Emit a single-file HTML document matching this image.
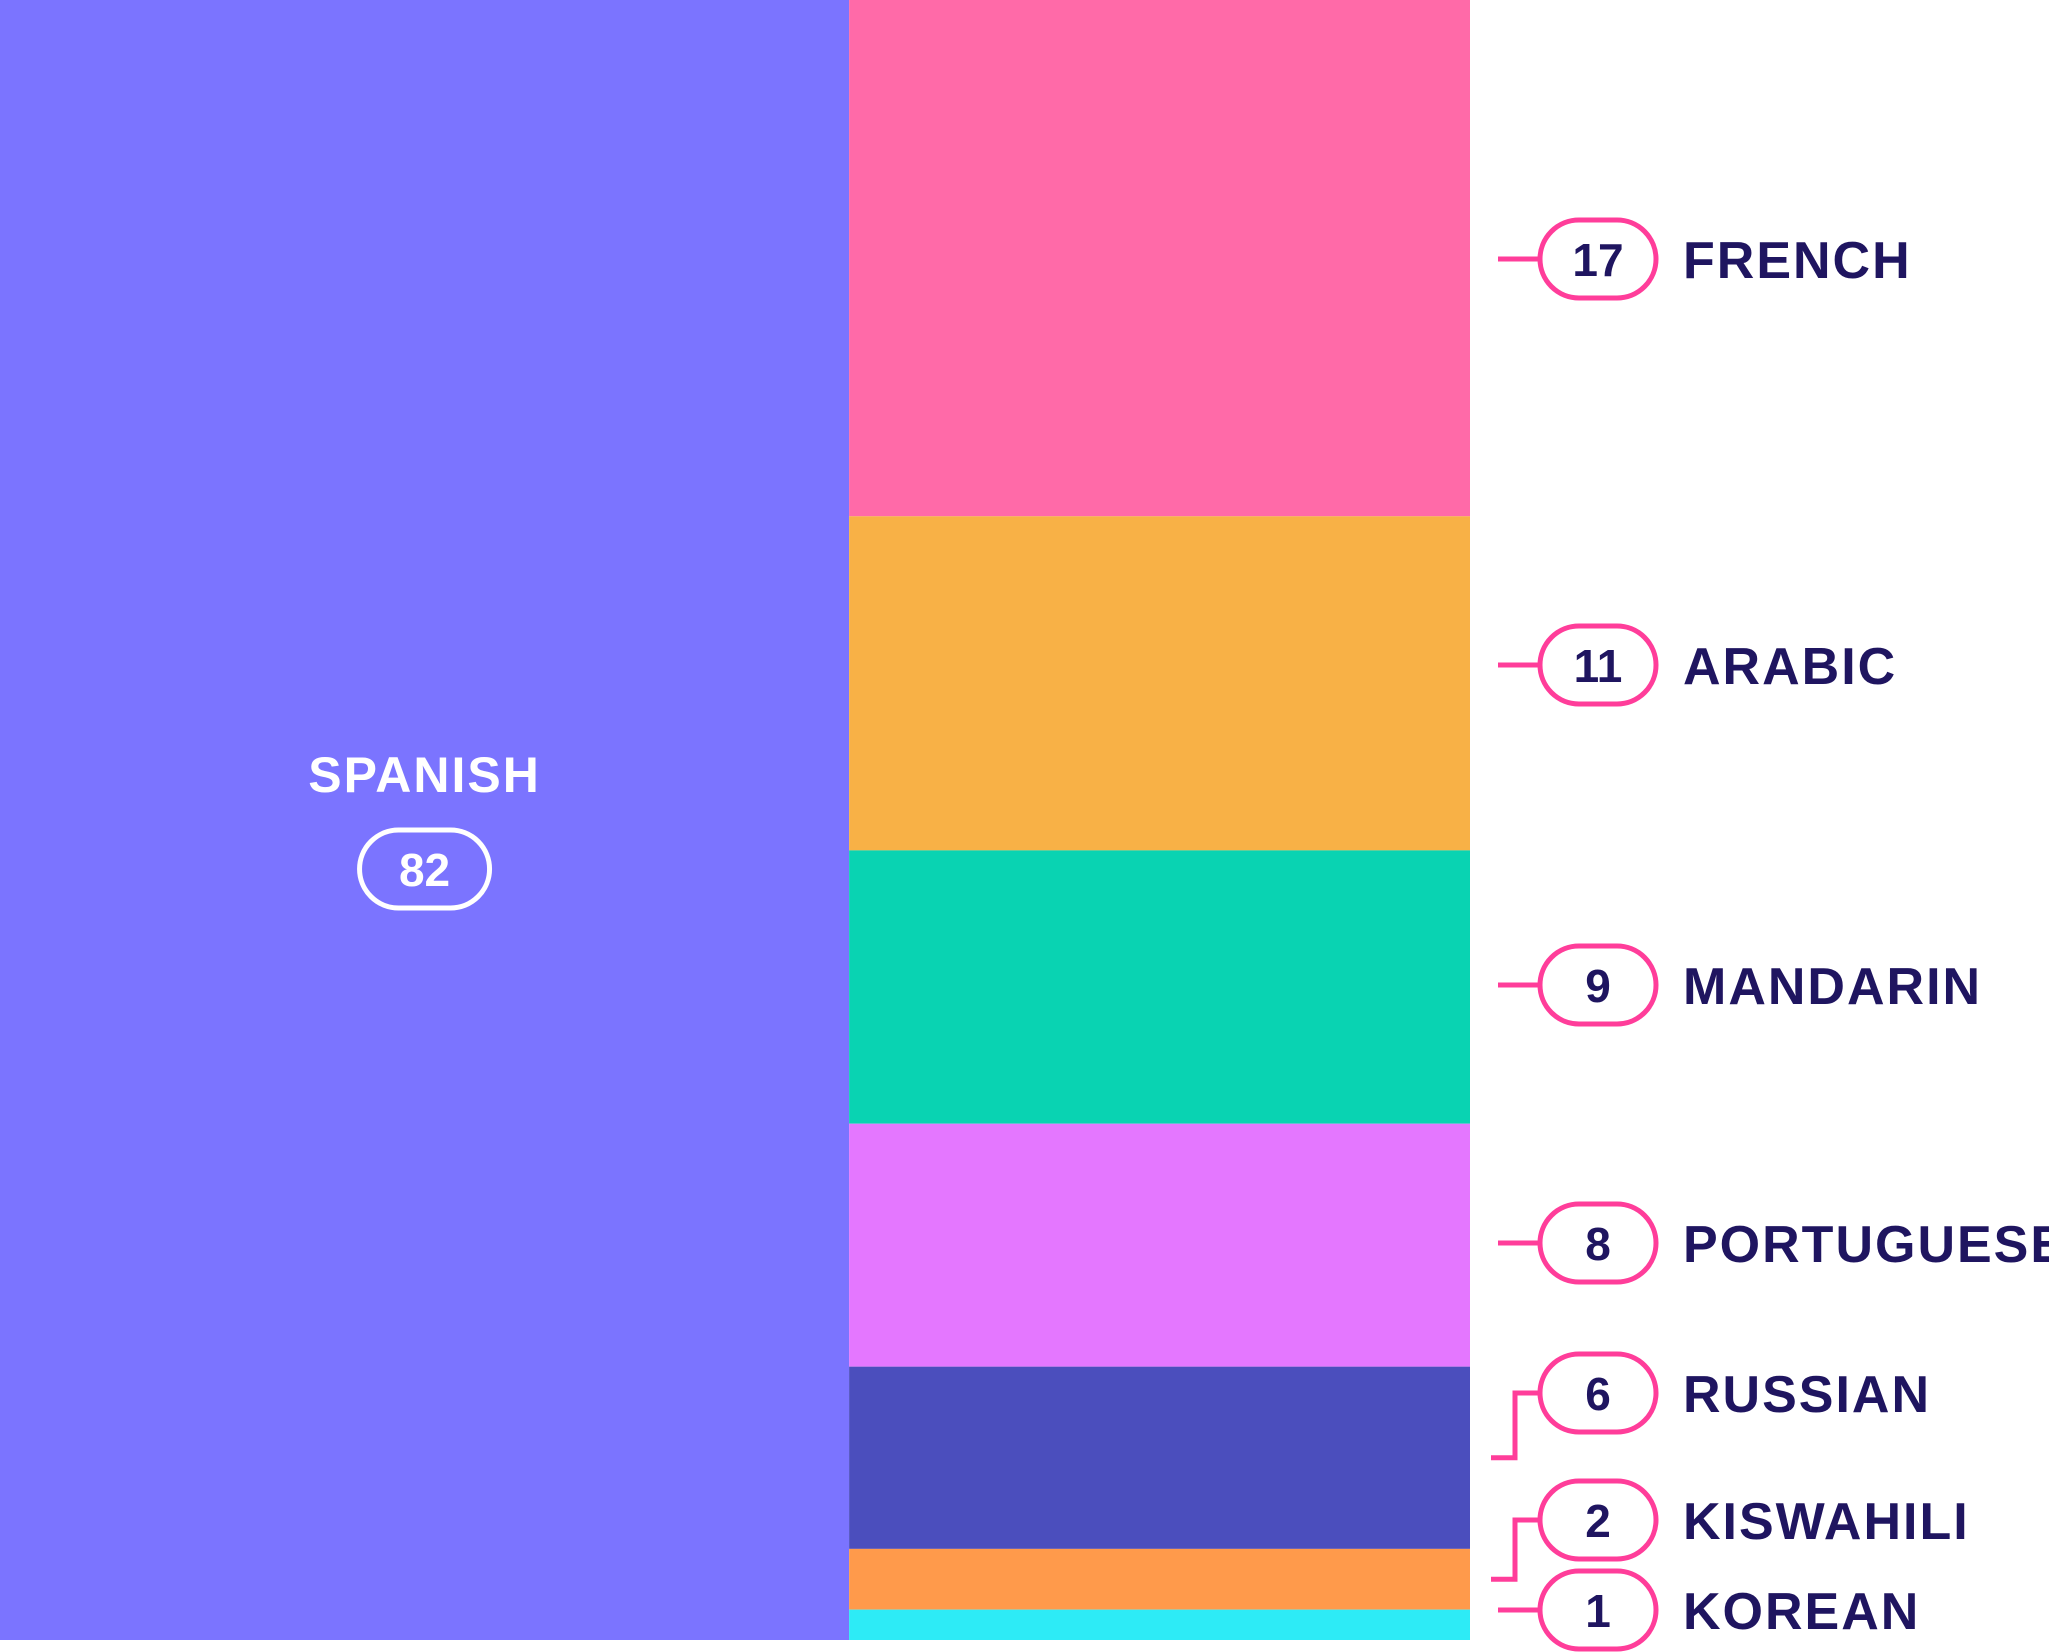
<!DOCTYPE html>
<html><head><meta charset="utf-8"><style>
html,body{margin:0;padding:0;background:#fff;}
svg{display:block;font-family:"Liberation Sans",sans-serif;}
</style></head><body>
<svg id="chart" width="2049" height="1652" viewBox="0 0 2049 1652"></svg>
<script>
const categories = ["SPANISH","FRENCH","ARABIC","MANDARIN","PORTUGUESE","RUSSIAN","KISWAHILI","KOREAN"];
const values = [82,17,11,9,8,6,2,1];
const colors = ["#7B74FF","#FF6AA8","#F8B146","#09D3B2","#E477FF","#4B4EBD","#FF9A4B","#2DEBF6"];
const labelY = [null,259,665,985,1243,1393,1520,1610];

const NS="http://www.w3.org/2000/svg";
const svg=document.getElementById('chart');
function mk(t,a,p){const e=document.createElementNS(NS,t);for(const k in a)e.setAttribute(k,a[k]);(p||svg).appendChild(e);return e;}
const W=1470,H=1640,total=values.reduce((a,b)=>a+b,0);
const leftW=W*(values[0]/total)*0.958;
const rest=total-values[0];
const yScale=v=>v/rest*H;

const sp=mk('rect',{x:0,y:0,width:leftW,height:H,fill:colors[0]});


const st=mk('text',{x:leftW/2,y:792,'text-anchor':'middle','font-size':50,'font-weight':'bold',fill:'#fff','letter-spacing':2});
st.textContent=categories[0];


const sb=mk('rect',{x:leftW/2-65,y:830,width:130,height:78,rx:39,fill:'none',stroke:'#fff','stroke-width':5});


const sv=mk('text',{x:leftW/2,y:886,'text-anchor':'middle','font-size':46,'font-weight':'bold',fill:'#fff'});
sv.textContent=values[0];



let y=0;
for(let i=1;i<values.length;i++){
  const h=yScale(values[i]);
  const r=mk('rect',{x:leftW,y:y,width:W-leftW,height:h,fill:colors[i]});
  
  
  const mid=y+h/2;
  const ly=labelY[i];
  let d;
  if(Math.abs(mid-ly)<40) d=`M1498 ${ly} H1540`;
  else d=`M1491 ${mid} H1515 V${ly} H1540`;
  const c=mk('path',{d:d,fill:'none',stroke:'#FF3D9A','stroke-width':5});
  
  
  const b=mk('rect',{x:1540,y:ly-39,width:116,height:78,rx:39,fill:'#fff',stroke:'#FF3D9A','stroke-width':5});
  
  
  const v=mk('text',{x:1598,y:ly+17,'text-anchor':'middle','font-size':46,'font-weight':'bold',fill:'#1F1560'});
  v.textContent=values[i];
  
  
  const t=mk('text',{x:1683,y:ly+19,'font-size':52,'font-weight':'bold',fill:'#1F1560','letter-spacing':2});
  t.textContent=categories[i];
  
  
  y+=h;
}
</script>
</body></html>
